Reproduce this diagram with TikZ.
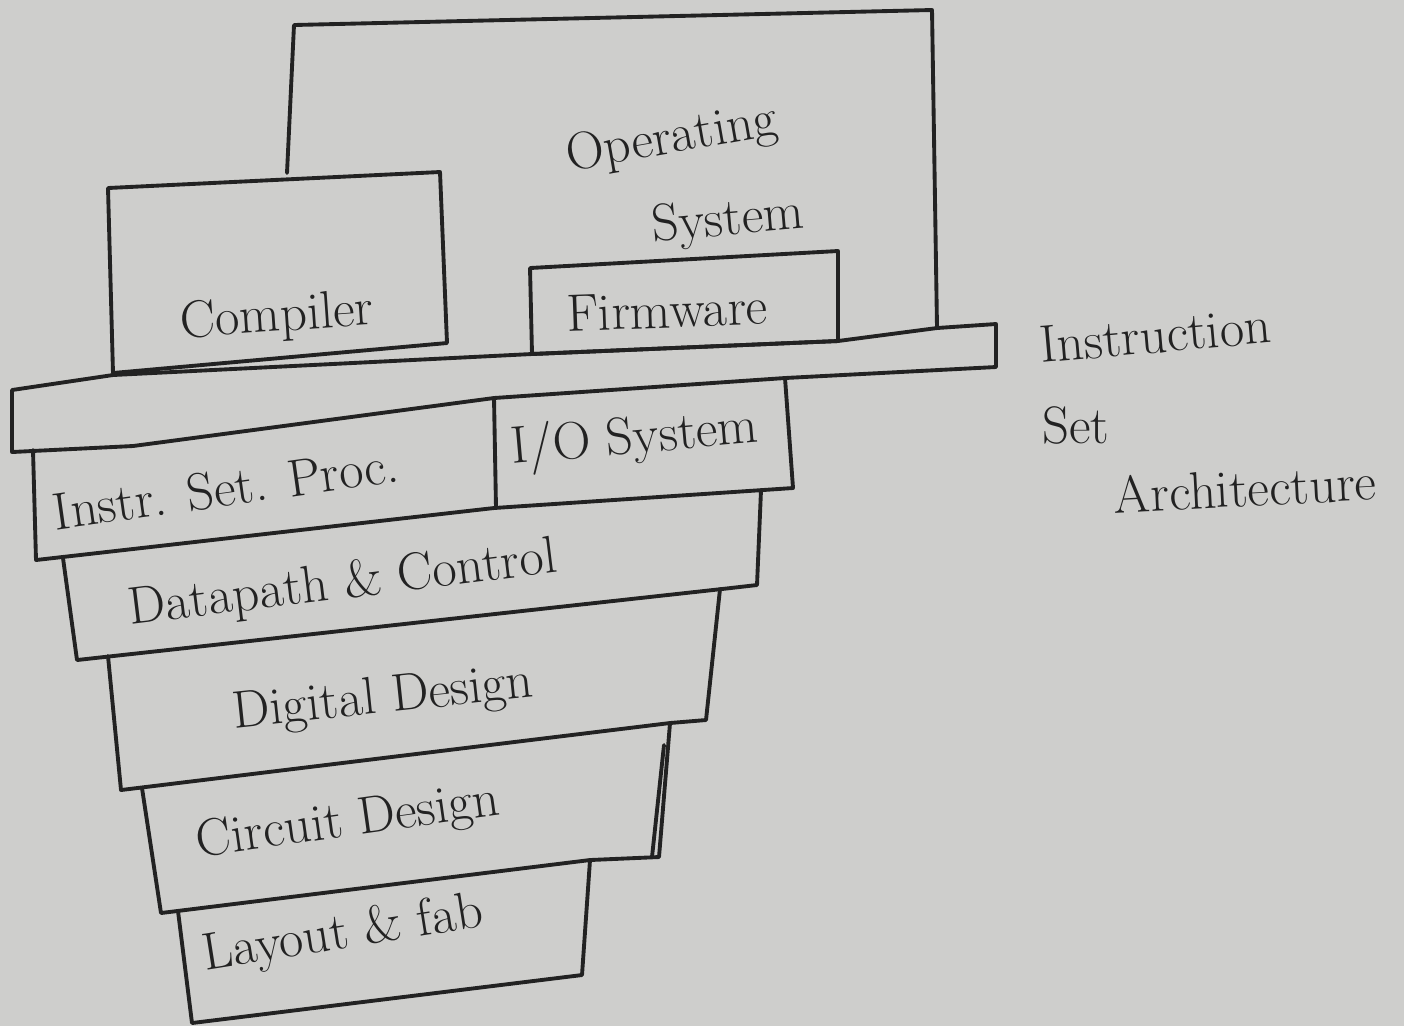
\documentclass[tikz,border=0pt]{standalone}
\usepackage{tikz}
\definecolor{ink}{RGB}{34,34,34}
\definecolor{paper}{RGB}{206,206,204}

\begin{document}
\begin{tikzpicture}[x=0.01cm,y=-0.01cm,
			layer/.style={draw=ink,line width=1.1pt,line join=round,line cap=round},
			hand/.style={text=ink,font=\fontsize{15}{17}\selectfont,inner sep=1pt}]
			\fill[paper] (0,0) rectangle (1404,1026);
			\useasboundingbox (0,0) rectangle (1404,1026);
			\draw[layer] (287,173) -- (294,25) -- (932,10) -- (937,328);
			\draw[layer] (108,188) -- (440,172) -- (447,343) -- (113,373) -- cycle;
			\draw[layer] (530,268) -- (838,251) -- (838,341) -- (532,354) -- cycle;
			\draw[layer] (12,390) -- (113,375) -- (532,354) -- (838,341) -- (937,328) -- (996,324)
				-- (996,367) -- (785,378) -- (494,398) -- (133,446) -- (12,452) -- cycle;
			\draw[layer] (33,450) -- (36,560) -- (494,508) -- (793,488) -- (785,378);
			\draw[layer] (494,398) -- (496,508);
			\draw[layer] (63,558) -- (77,660) -- (722,589) -- (757,585) -- (761,490);
			\draw[layer] (108,656) -- (121,790) -- (670,723) -- (706,720) -- (720,589);
			\draw[layer] (142,788) -- (161,913) -- (590,860) -- (659,857) -- (670,723);
			\draw[layer] (664,745) -- (652,857);
			\draw[layer] (178,911) -- (192,1023) -- (582,975) -- (590,860);
			\node[hand,rotate=10] (os1) at (672,140) {Operating};
			\node[hand,rotate=5] (os2) at (728,222) {System};
			\node[hand,rotate=4] (comp) at (277,318) {Compiler};
			\node[hand,rotate=2] (fw) at (667,310) {Firmware};
			\node[hand,rotate=8] (isp) at (226,488) {Instr. Set. Proc.};
			\node[hand,rotate=5] (io) at (635,440) {I/O System};
			\node[hand,rotate=7] (dpc) at (343,585) {Datapath \& Control};
			\node[hand,rotate=6] (dig) at (383,700) {Digital Design};
			\node[hand,rotate=8] (cir) at (348,823) {Circuit Design};
			\node[hand,rotate=9] (lay) at (343,935) {Layout \& fab};
			\node[hand,rotate=5] (isa1) at (1155,335) {Instruction};
			\node[hand] (isa2) at (1076,425) {Set};
			\node[hand,rotate=3] (isa3) at (1245,488) {Architecture};
		\end{tikzpicture}
\end{document}
